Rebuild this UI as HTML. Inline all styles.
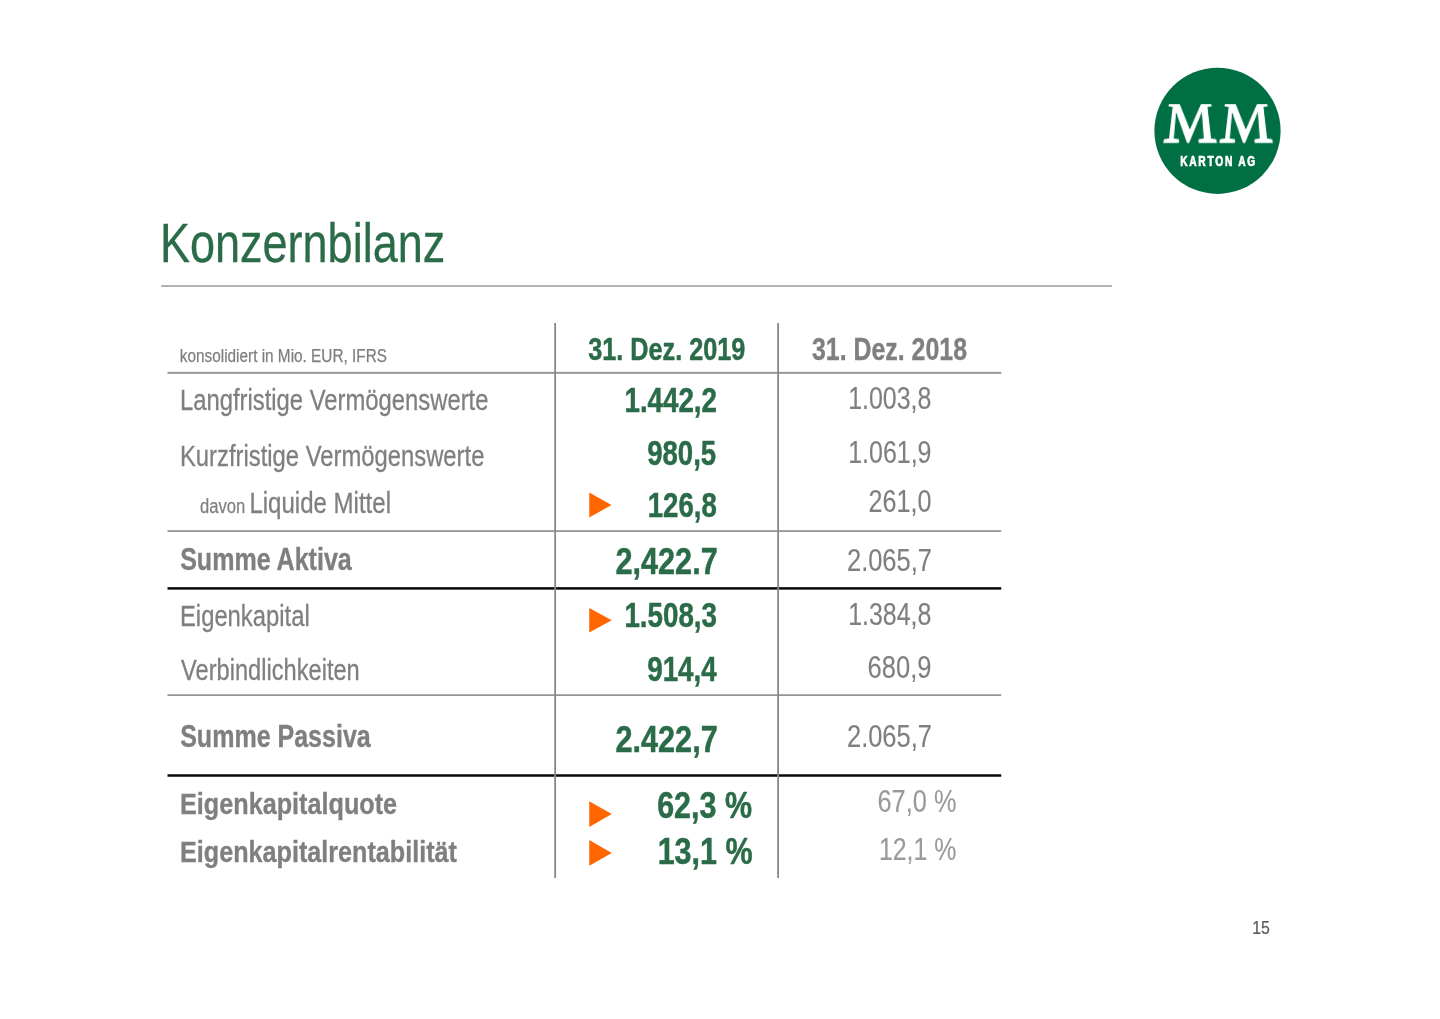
<!DOCTYPE html>
<html lang="de">
<head>
<meta charset="utf-8">
<title>Konzernbilanz</title>
<style>
html,body{margin:0;padding:0;background:#fff;}
body{width:1440px;height:1019px;overflow:hidden;position:relative;}
.mm svg{position:absolute;width:1px;height:1px;overflow:visible;transform-origin:0 0;transform:matrix3d(1.02,0,0,0, 0,1.165,0,-0.0062, 0,0,1,0, 0,0,0,1);}
svg{display:block;}
text{white-space:pre;}
.s{font-family:"Liberation Sans",sans-serif;}
.f{font-family:"Liberation Serif",serif;}
</style>
</head>
<body>
<svg width="1440" height="1019" viewBox="0 0 1440 1019">
<rect width="1440" height="1019" fill="#ffffff"/>
<g id="logo-disc"><circle cx="1217.5" cy="130.8" r="63.1" fill="#006f44"/></g>
<g id="rules">
<rect x="161.25" y="285.15" width="950.75" height="1.8" fill="#a9a9a9"/>
<rect x="167.5" y="371.85" width="833.75" height="2.0" fill="#969696"/>
<rect x="167.5" y="530.25" width="833.75" height="1.6" fill="#8a8a8a"/>
<rect x="167.5" y="587.15" width="833.75" height="2.5" fill="#0a0a0a"/>
<rect x="167.5" y="694.30" width="833.75" height="1.6" fill="#8a8a8a"/>
<rect x="167.5" y="774.25" width="833.75" height="2.5" fill="#0a0a0a"/>
<rect x="554.25" y="323.0" width="1.8" height="555.00" fill="#888888"/>
<rect x="777.20" y="323.0" width="1.8" height="555.00" fill="#888888"/>
</g>
<g id="markers">
<polygon points="589.25,492.5 611.5,505.00 589.25,517.5" fill="#ff6600"/>
<polygon points="589.25,608.0 611.75,620.25 589.25,632.5" fill="#ff6600"/>
<polygon points="589.25,801.25 611.75,814.12 589.25,827.0" fill="#ff6600"/>
<polygon points="589.25,840.0 611.75,852.88 589.25,865.75" fill="#ff6600"/>
</g>
<g id="heading">
<text class="s" x="159.95" y="262.45" font-size="55.96" stroke="#2a6b48" stroke-width="0.3" stroke-linejoin="round" fill="#2a6b48" textLength="285.31" lengthAdjust="spacingAndGlyphs">Konzernbilanz</text>
</g>
<g id="row-labels">
<text class="s" x="179.81" y="362.38" font-size="17.94" stroke="#7f7f7f" stroke-width="0.25" stroke-linejoin="round" fill="#7f7f7f" textLength="207.17" lengthAdjust="spacingAndGlyphs">konsolidiert in Mio. EUR, IFRS</text>
<text class="s" x="179.99" y="410.35" font-size="29.65" stroke="#7f7f7f" stroke-width="0.3" stroke-linejoin="round" fill="#7f7f7f" textLength="308.47" lengthAdjust="spacingAndGlyphs">Langfristige Vermögenswerte</text>
<text class="s" x="179.99" y="465.60" font-size="29.65" stroke="#7f7f7f" stroke-width="0.3" stroke-linejoin="round" fill="#7f7f7f" textLength="304.41" lengthAdjust="spacingAndGlyphs">Kurzfristige Vermögenswerte</text>
<text class="s" x="200.05" y="512.88" font-size="21.05" stroke="#7f7f7f" stroke-width="0.25" stroke-linejoin="round" fill="#7f7f7f" textLength="45.33" lengthAdjust="spacingAndGlyphs">davon</text>
<text class="s" x="249.40" y="512.85" font-size="29.65" stroke="#7f7f7f" stroke-width="0.3" stroke-linejoin="round" fill="#7f7f7f" textLength="141.62" lengthAdjust="spacingAndGlyphs">Liquide Mittel</text>
<text class="s" x="180.16" y="570.33" font-size="30.89" font-weight="bold" stroke="#7f7f7f" stroke-width="0.35" stroke-linejoin="round" fill="#7f7f7f" textLength="171.61" lengthAdjust="spacingAndGlyphs">Summe Aktiva</text>
<text class="s" x="179.96" y="626.10" font-size="29.65" stroke="#7f7f7f" stroke-width="0.3" stroke-linejoin="round" fill="#7f7f7f" textLength="129.76" lengthAdjust="spacingAndGlyphs">Eigenkapital</text>
<text class="s" x="181.12" y="680.05" font-size="29.65" stroke="#7f7f7f" stroke-width="0.3" stroke-linejoin="round" fill="#7f7f7f" textLength="178.63" lengthAdjust="spacingAndGlyphs">Verbindlichkeiten</text>
<text class="s" x="180.16" y="746.58" font-size="30.89" font-weight="bold" stroke="#7f7f7f" stroke-width="0.35" stroke-linejoin="round" fill="#7f7f7f" textLength="190.59" lengthAdjust="spacingAndGlyphs">Summe Passiva</text>
<text class="s" x="179.99" y="814.48" font-size="30.31" font-weight="bold" stroke="#7f7f7f" stroke-width="0.35" stroke-linejoin="round" fill="#7f7f7f" textLength="217.16" lengthAdjust="spacingAndGlyphs">Eigenkapitalquote</text>
<text class="s" x="180.01" y="861.68" font-size="30.31" font-weight="bold" stroke="#7f7f7f" stroke-width="0.35" stroke-linejoin="round" fill="#7f7f7f" textLength="276.99" lengthAdjust="spacingAndGlyphs">Eigenkapitalrentabilität</text>
</g>
<g id="col-2019">
<text class="s" x="588.21" y="359.55" font-size="30.96" font-weight="bold" stroke="#2a6b48" stroke-width="0.5" stroke-linejoin="round" fill="#2a6b48" textLength="157.09" lengthAdjust="spacingAndGlyphs">31. Dez. 2019</text>
<text class="s" x="624.46" y="411.50" font-size="34.16" font-weight="bold" stroke="#2a6b48" stroke-width="0.5" stroke-linejoin="round" fill="#2a6b48" textLength="92.56" lengthAdjust="spacingAndGlyphs">1.442,2</text>
<text class="s" x="647.22" y="464.75" font-size="34.16" font-weight="bold" stroke="#2a6b48" stroke-width="0.5" stroke-linejoin="round" fill="#2a6b48" textLength="68.94" lengthAdjust="spacingAndGlyphs">980,5</text>
<text class="s" x="647.75" y="516.50" font-size="34.16" font-weight="bold" stroke="#2a6b48" stroke-width="0.5" stroke-linejoin="round" fill="#2a6b48" textLength="69.05" lengthAdjust="spacingAndGlyphs">126,8</text>
<text class="s" x="615.39" y="573.50" font-size="36.70" font-weight="bold" stroke="#2a6b48" stroke-width="0.5" stroke-linejoin="round" fill="#2a6b48" textLength="102.33" lengthAdjust="spacingAndGlyphs">2,422.7</text>
<text class="s" x="624.46" y="626.75" font-size="34.16" font-weight="bold" stroke="#2a6b48" stroke-width="0.5" stroke-linejoin="round" fill="#2a6b48" textLength="92.47" lengthAdjust="spacingAndGlyphs">1.508,3</text>
<text class="s" x="647.21" y="680.50" font-size="34.16" font-weight="bold" stroke="#2a6b48" stroke-width="0.5" stroke-linejoin="round" fill="#2a6b48" textLength="69.46" lengthAdjust="spacingAndGlyphs">914,4</text>
<text class="s" x="615.39" y="751.75" font-size="36.70" font-weight="bold" stroke="#2a6b48" stroke-width="0.5" stroke-linejoin="round" fill="#2a6b48" textLength="102.33" lengthAdjust="spacingAndGlyphs">2.422,7</text>
<text class="s" x="657.18" y="817.75" font-size="36.34" font-weight="bold" stroke="#2a6b48" stroke-width="0.5" stroke-linejoin="round" fill="#2a6b48" textLength="94.82" lengthAdjust="spacingAndGlyphs">62,3 %</text>
<text class="s" x="657.67" y="863.50" font-size="36.34" font-weight="bold" stroke="#2a6b48" stroke-width="0.5" stroke-linejoin="round" fill="#2a6b48" textLength="94.93" lengthAdjust="spacingAndGlyphs">13,1 %</text>
</g>
<g id="col-2018">
<text class="s" x="812.00" y="359.82" font-size="31.18" font-weight="bold" stroke="#7f7f7f" stroke-width="0.35" stroke-linejoin="round" fill="#7f7f7f" textLength="155.00" lengthAdjust="spacingAndGlyphs">31. Dez. 2018</text>
<text class="s" x="848.21" y="409.18" font-size="32.05" stroke="#7f7f7f" stroke-width="0.15" stroke-linejoin="round" fill="#7f7f7f" textLength="83.22" lengthAdjust="spacingAndGlyphs">1.003,8</text>
<text class="s" x="848.20" y="462.93" font-size="32.05" stroke="#7f7f7f" stroke-width="0.15" stroke-linejoin="round" fill="#7f7f7f" textLength="83.29" lengthAdjust="spacingAndGlyphs">1.061,9</text>
<text class="s" x="868.56" y="511.68" font-size="32.05" stroke="#7f7f7f" stroke-width="0.15" stroke-linejoin="round" fill="#7f7f7f" textLength="62.85" lengthAdjust="spacingAndGlyphs">261,0</text>
<text class="s" x="846.97" y="571.17" font-size="32.05" stroke="#7f7f7f" stroke-width="0.15" stroke-linejoin="round" fill="#7f7f7f" textLength="84.98" lengthAdjust="spacingAndGlyphs">2.065,7</text>
<text class="s" x="848.21" y="624.92" font-size="32.05" stroke="#7f7f7f" stroke-width="0.15" stroke-linejoin="round" fill="#7f7f7f" textLength="83.22" lengthAdjust="spacingAndGlyphs">1.384,8</text>
<text class="s" x="867.58" y="677.92" font-size="32.05" stroke="#7f7f7f" stroke-width="0.15" stroke-linejoin="round" fill="#7f7f7f" textLength="63.86" lengthAdjust="spacingAndGlyphs">680,9</text>
<text class="s" x="846.97" y="747.42" font-size="32.05" stroke="#7f7f7f" stroke-width="0.15" stroke-linejoin="round" fill="#7f7f7f" textLength="84.98" lengthAdjust="spacingAndGlyphs">2.065,7</text>
<text class="s" x="877.52" y="812.38" font-size="32.05" stroke="#9a9a9a" stroke-width="0.15" stroke-linejoin="round" fill="#9a9a9a" textLength="78.97" lengthAdjust="spacingAndGlyphs">67,0 %</text>
<text class="s" x="878.92" y="859.57" font-size="32.05" stroke="#9a9a9a" stroke-width="0.15" stroke-linejoin="round" fill="#9a9a9a" textLength="77.44" lengthAdjust="spacingAndGlyphs">12,1 %</text>
</g>
<g id="page-number">
<text class="s" x="1252.15" y="933.50" font-size="18.31" stroke="#5a5a5a" stroke-width="0.2" stroke-linejoin="round" fill="#5a5a5a" textLength="17.66" lengthAdjust="spacingAndGlyphs">15</text>
</g>
<g id="logo-caption">
<text class="s" transform="translate(1180.13 165.95) scale(0.72 1)" font-size="14.24" font-weight="bold" stroke="#ffffff" stroke-width="0.7" stroke-linejoin="round" fill="#ffffff" textLength="104.37" lengthAdjust="spacing">KARTON AG</text>
</g>
</svg>
<div class="mm"><svg style="left:1189.5px;top:141.9px"><text class="f" x="0" y="0" text-anchor="middle" font-size="61" fill="#ffffff" stroke="#ffffff" stroke-width="1.5">M</text></svg><svg style="left:1245.7px;top:141.9px"><text class="f" x="0" y="0" text-anchor="middle" font-size="61" fill="#ffffff" stroke="#ffffff" stroke-width="1.5">M</text></svg></div>
</body>
</html>
